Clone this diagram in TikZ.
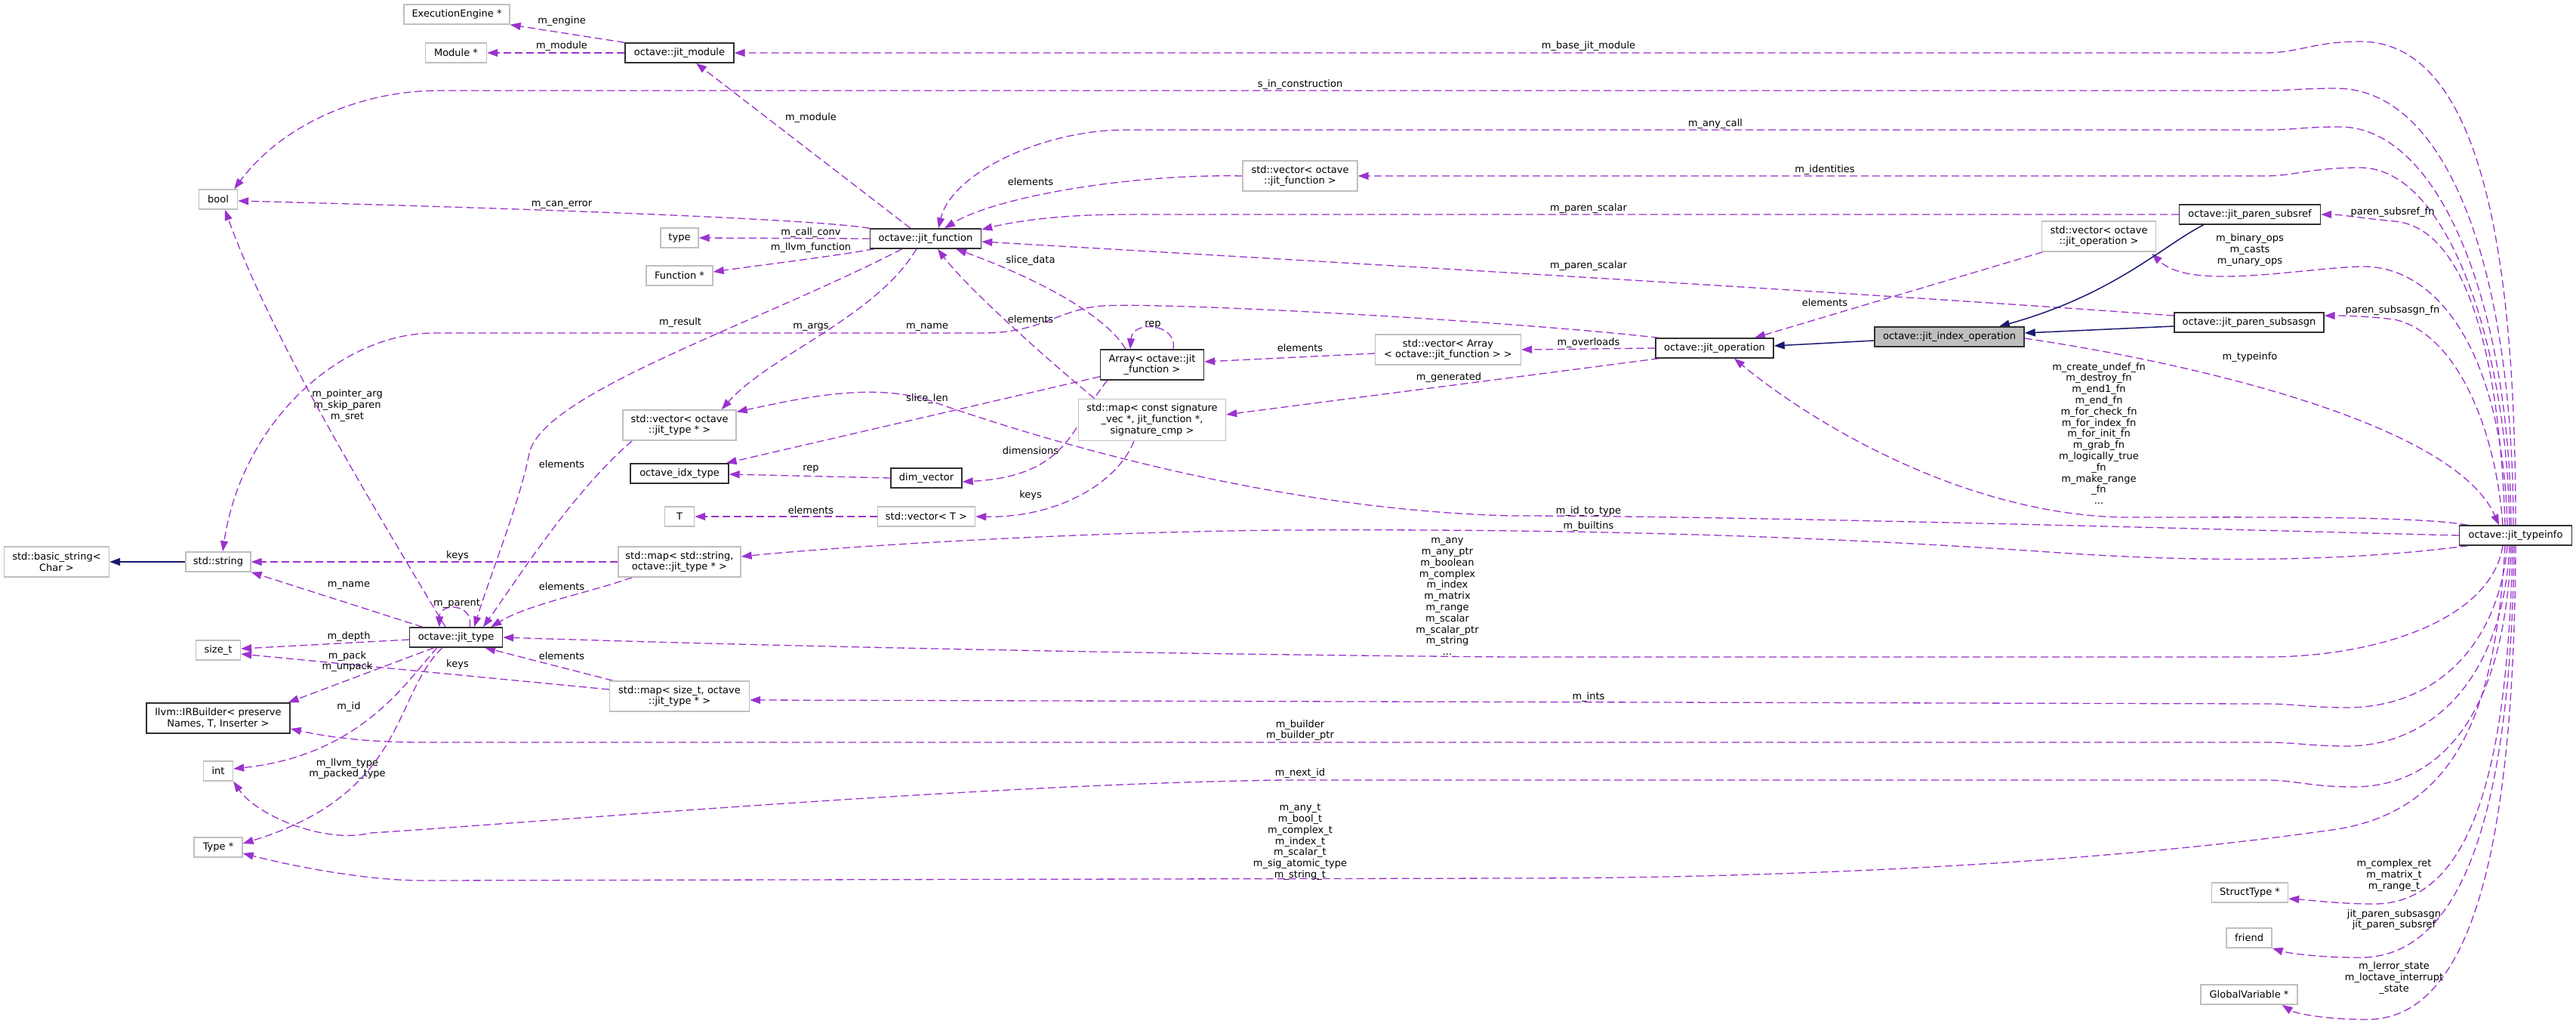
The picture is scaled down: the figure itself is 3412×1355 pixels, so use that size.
\documentclass[tikz,border=0pt]{standalone}
\usepackage{fontspec}
\setmainfont{DejaVu Sans}
\usetikzlibrary{arrows.meta,calc,backgrounds}
\definecolor{edgeP}{HTML}{9A32CD}
\definecolor{inhN}{HTML}{191970}
\definecolor{boxG}{HTML}{BFBFBF}
\definecolor{boxK}{HTML}{303030}
\begin{document}
\begin{tikzpicture}[x=1pt,y=-1pt,
  font=\fontsize{13pt}{14.8pt}\selectfont,
  box/.style={rectangle, line width=1.4pt, fill=white, inner xsep=3pt, inner ysep=2pt, minimum height=26pt, align=center},
  doc/.style={box, draw=boxK},
  und/.style={box, draw=boxG},
  two/.style={minimum height=40pt},
  three/.style={minimum height=55pt},
  use/.style={draw=edgeP, line width=1.3pt, dash pattern=on 10pt off 5pt, -{Triangle[length=14pt,width=10pt]}},
  inh/.style={draw=inhN, line width=1.5pt, -{Triangle[length=14pt,width=10pt]}},
  lbl/.style={inner sep=0pt, align=center, text=black}
]
\useasboundingbox (0,0) rectangle (3412,1355);
% ---------- nodes ----------
\node[und, minimum width=140pt] (ee) at (605,19) {ExecutionEngine *};
\node[und, minimum width=81pt] (mod) at (604,70) {Module *};
\node[doc, minimum width=144pt] (jmod) at (900,70) {octave::jit\_module};
\node[und, minimum width=51pt] (bool) at (289,264) {bool};
\node[und, minimum width=50pt] (type) at (900,315) {type};
\node[und, minimum width=88pt] (func) at (900,365) {Function *};
\node[doc, minimum width=147pt] (jfun) at (1226,316) {octave::jit\_function};
\node[und, two, minimum width=152pt] (vfun) at (1722,233) {std::vector< octave\\::jit\_function >};
\node[doc, minimum width=187pt] (subsref) at (2980,284) {octave::jit\_paren\_subsref};
\node[und, two, minimum width=151pt] (vop) at (2780,313) {std::vector< octave\\::jit\_operation >};
\node[doc, minimum width=198pt] (subsasgn) at (2979,427) {octave::jit\_paren\_subsasgn};
\node[doc, fill=boxG, minimum width=198pt] (idxop) at (2582,446) {octave::jit\_index\_operation};
\node[doc, minimum width=156pt] (jop) at (2271,461) {octave::jit\_operation};
\node[doc, minimum width=149pt] (tinfo) at (3332,709) {octave::jit\_typeinfo};
\node[und, two, minimum width=150pt] (vtype) at (900,563) {std::vector< octave\\::jit\_type * >};
\node[doc, minimum width=130pt] (idx) at (900,627) {octave\_idx\_type};
\node[und, minimum width=39pt] (T) at (900,684) {T};
\node[und, two, minimum width=162pt] (mapstr) at (900,744) {std::map< std::string,\\octave::jit\_type * >};
\node[und, two, minimum width=139pt] (bstr) at (75,744) {std::basic\_string<\\Char >};
\node[und, minimum width=86pt] (str) at (289,744) {std::string};
\node[doc, minimum width=123pt] (jtype) at (604,844) {octave::jit\_type};
\node[und, minimum width=59pt] (sizet) at (289,861) {size\_t};
\node[doc, two, minimum width=190pt] (irb) at (289,951) {llvm::IRBuilder< preserve\\Names, T, Inserter >};
\node[und, minimum width=39pt] (int) at (289,1021) {int};
\node[und, minimum width=64pt] (typep) at (289,1122) {Type *};
\node[und, two, minimum width=185pt] (mapsz) at (900,922) {std::map< size\_t, octave\\::jit\_type * >};
\node[doc, two, minimum width=137pt] (arr) at (1526,483) {Array< octave::jit\\\_function >};
\node[und, two, minimum width=193pt] (varr) at (1918,463) {std::vector< Array\\< octave::jit\_function > >};
\node[und, three, minimum width=195pt] (mapsig) at (1526,556) {std::map< const signature\\\_vec *, jit\_function *,\\ signature\_cmp >};
\node[doc, minimum width=94pt] (dimv) at (1227,633) {dim\_vector};
\node[und, minimum width=129pt] (vT) at (1227,684) {std::vector< T >};
\node[und, minimum width=101pt] (stype) at (2980,1182) {StructType *};
\node[und, minimum width=60pt] (friend) at (2979,1242) {friend};
\node[und, minimum width=128pt] (gvar) at (2979,1317) {GlobalVariable *};
% ---------- edges ----------
\begin{pgfonlayer}{background}
\fill[white] (0,0) rectangle (3412,1355);
\draw[use] (jmod.north west) -- (ee.south east);
\draw[use] (jmod.west) -- (mod.east);
\draw[use] (tinfo.north) .. controls (3332,350) and (3290,55) .. (3126,55) .. controls (3065,55) and (3045,70) .. (3000,70) -- (jmod.east);
\draw[use] ($(jfun.north)+(-20,0)$) -- ($(jmod.south)+(22,0)$);
\draw[use] ($(tinfo.north)+(-3,0)$) .. controls (3328,350) and (3240,117) .. (3094,117) .. controls (3050,117) and (3030,120) .. (3000,120) -- (582,120) .. controls (470,120) and (370,170) .. ($(bool.north east)+(-5,0)$);
\draw[use] ($(tinfo.north)+(-6,0)$) .. controls (3324,400) and (3230,168) .. (3099,168) .. controls (3050,168) and (3040,172) .. (3000,172) -- (1491,172) .. controls (1380,172) and (1260,230) .. ($(jfun.north)+(17,0)$);
\draw[use] (vfun.west) .. controls (1500,230) and (1320,260) .. ($(jfun.north)+(25,0)$);
\draw[use] ($(tinfo.north)+(-8,0)$) .. controls (3320,450) and (3240,222) .. (3126,222) .. controls (3060,222) and (3040,233) .. (3000,233) -- (vfun.east);
\draw[use] (subsref.west) -- (1491,284) .. controls (1400,284) and (1340,294) .. ($(jfun.east)+(0,-12)$);
\draw[use] ($(subsasgn.west)+(0,-9)$) .. controls (2500,390) and (1700,343) .. ($(jfun.east)+(0,4)$);
\draw[use] (jfun.north west) .. controls (1080,290) and (700,276) .. ($(bool.east)+(0,2)$);
\draw[use] (jfun.west) -- (type.east);
\draw[use] ($(jfun.south west)+(6,0)$) .. controls (1100,340) and (1000,352) .. ($(func.east)+(0,-5)$);
\draw[use] ($(jfun.south west)+(43,0)$) .. controls (1000,430) and (720,520) .. (701,600) .. controls (690,660) and (650,760) .. ($(jtype.north)+(24,0)$);
\draw[use] ($(jfun.south)+(-12,0)$) .. controls (1160,420) and (1020,470) .. ($(vtype.north east)+(-20,0)$);
\draw[use] ($(arr.north)+(-35,0)$) .. controls (1460,410) and (1350,360) .. ($(jfun.south east)+(-34,0)$);
\draw[use] ($(arr.north)+(28,0)$) .. controls (1560,428) and (1500,423) .. ($(arr.north)+(-29,0)$);
\draw[use] ($(mapsig.north west)+(22,0)$) .. controls (1380,470) and (1280,380) .. ($(jfun.south)+(16,0)$);
\draw[use] ($(arr.south west)+(10,0)$) .. controls (1420,560) and (1420,630) .. ($(dimv.east)+(0,5)$);
\draw[use] ($(arr.south west)+(0,-5)$) -- ($(idx.north east)+(-4,0)$);
\draw[use] (dimv.west) -- ($(idx.east)+(0,1)$);
\draw[use] ($(varr.west)+(0,5)$) -- ($(arr.east)+(0,-4)$);
\draw[use] (jop.west) -- (varr.east);
\draw[use] ($(jop.south west)+(5,0)$) -- ($(mapsig.east)+(0,-7)$);
\draw[use] ($(mapsig.south)+(-24,0)$) .. controls (1480,640) and (1400,686) .. (vT.east);
\draw[use] (vT.west) -- (T.east);
\draw[use] ($(jop.north west)+(5,0)$) .. controls (2000,425) and (1550,400) .. (1460,405) .. controls (1400,410) and (1380,441) .. (1301,441) -- (575,441) .. controls (450,441) and (320,560) .. ($(str.north)+(6,0)$);
\draw[inh] (str.west) -- (bstr.east);
\draw[use] (mapstr.west) -- (str.east);
\draw[use] ($(mapstr.south west)+(19,0)$) .. controls (780,785) and (700,800) .. ($(jtype.north east)+(-16,0)$);
\draw[use] ($(vtype.south west)+(13,0)$) .. controls (760,650) and (690,760) .. ($(jtype.north)+(36,0)$);
\draw[use] ($(jtype.north)+(18,0)$) .. controls (628,798) and (582,798) .. ($(jtype.north)+(-22,0)$);
\draw[use] ($(jtype.north)+(-14,0)$) .. controls (500,680) and (360,450) .. ($(bool.south)+(9,0)$);
\draw[use] ($(jtype.north west)+(18,0)$) -- (str.south east);
\draw[use] ($(jtype.west)+(0,3)$) -- ($(sizet.east)+(0,-2)$);
\draw[use] ($(mapsz.west)+(0,-9)$) -- ($(sizet.east)+(0,5)$);
\draw[use] ($(mapsz.north west)+(5,0)$) -- ($(jtype.south east)+(-24,0)$);
\draw[use] ($(jtype.south)+(-29,0)$) -- ($(irb.north east)+(-3,0)$);
\draw[use] ($(jtype.south)+(-25,0)$) .. controls (540,900) and (480,1000) .. ($(int.east)+(0,-3)$);
\draw[use] ($(jtype.south)+(-18,0)$) .. controls (520,920) and (540,1050) .. ($(typep.east)+(0,-5)$);
% typeinfo bottom bundle
\draw[use] ($(tinfo.south)+(-17,0)$) .. controls (3300,820) and (3150,870) .. (3000,870) -- (2000,870) .. controls (1500,866) and (1000,855) .. (jtype.east);
\draw[use] ($(tinfo.south)+(-11,0)$) .. controls (3310,850) and (3230,937) .. (3108,937) .. controls (3060,937) and (3040,932) .. (3000,932) -- ($(mapsz.east)+(0,5)$);
\draw[use] ($(tinfo.south)+(-8,0)$) .. controls (3315,900) and (3220,988) .. (3108,988) .. controls (3060,988) and (3040,983) .. (3000,983) -- (561,983) .. controls (480,983) and (430,975) .. ($(irb.east)+(0,14)$);
\draw[use] ($(tinfo.south)+(-6,0)$) .. controls (3318,950) and (3230,1042) .. (3117,1042) .. controls (3060,1042) and (3040,1033) .. (3000,1033) -- (1700,1033) .. controls (1300,1038) and (700,1090) .. (491,1103) .. controls (430,1118) and (340,1080) .. (int.south east);
\draw[use] ($(tinfo.south)+(-14,0)$) .. controls (3305,950) and (3250,1080) .. (3081,1100) .. controls (2800,1140) and (2400,1163) .. (2000,1163) -- (561,1166) .. controls (480,1166) and (380,1145) .. ($(typep.east)+(0,8)$);
\draw[use] ($(tinfo.south)+(-4,0)$) .. controls (3322,1000) and (3280,1197) .. (3144,1197) .. controls (3100,1197) and (3060,1192) .. ($(stype.east)+(0,8)$);
\draw[use] ($(tinfo.south)+(-2,0)$) .. controls (3326,1050) and (3270,1268) .. (3126,1268) .. controls (3070,1268) and (3030,1262) .. (friend.south east);
\draw[use] (tinfo.south) .. controls (3330,1100) and (3280,1350) .. (3135,1350) .. controls (3080,1350) and (3040,1342) .. ($(gvar.south east)+(-21,0)$);
\draw[use] ($(tinfo.south west)+(12,0)$) .. controls (3100,745) and (2900,745) .. (2700,730) .. controls (2400,710) and (2100,700) .. (1700,702) .. controls (1400,705) and (1100,725) .. ($(mapstr.east)+(0,-7)$);
\draw[use] (tinfo.west) .. controls (2900,700) and (2300,683) .. (2000,683) .. controls (1700,675) and (1400,590) .. (1230,530) .. controls (1150,505) and (1050,530) .. ($(vtype.north east)+(0,3)$);
% typeinfo top bundle
\draw[use] ($(tinfo.north west)+(12,0)$) .. controls (3200,683) and (3000,685) .. (2810,685) .. controls (2600,680) and (2400,560) .. ($(jop.south)+(26,0)$);
\draw[use] ($(idxop.east)+(0,2)$) .. controls (2900,480) and (3250,560) .. ($(tinfo.north)+(-22,0)$);
\draw[use] ($(tinfo.north)+(-14,0)$) .. controls (3310,450) and (3260,300) .. (3171,293) .. controls (3120,288) and (3100,284) .. (subsref.east);
\draw[use] ($(tinfo.north)+(-17,0)$) .. controls (3305,560) and (3250,440) .. (3171,423) .. controls (3130,418) and (3100,418) .. ($(subsasgn.east)+(0,-9)$);
\draw[use] ($(tinfo.north)+(-11,0)$) .. controls (3315,470) and (3230,350) .. (3126,353) .. controls (3040,356) and (2900,385) .. ($(vop.south east)+(-6,2)$);
\draw[use] ($(vop.south west)+(2,0)$) -- ($(jop.north)+(53,0)$);
\draw[inh] ($(idxop.west)+(0,5)$) -- ($(jop.east)+(0,-3)$);
\draw[inh] ($(subsref.south west)+(33,0)$) .. controls (2865,325) and (2800,390) .. ($(idxop.north)+(66,0)$);
\draw[inh] ($(subsasgn.west)+(0,5)$) -- ($(idxop.east)+(0,-5)$);
\end{pgfonlayer}
% ---------- labels ----------
\node[lbl] (l1) at (744,28) {m\_engine};
\node[lbl] (l2) at (744,61) {m\_module};
\node[lbl] (l3) at (2104,61) {m\_base\_jit\_module};
\node[lbl] (l4) at (1074,156) {m\_module};
\node[lbl] (l5) at (1722,112) {s\_in\_construction};
\node[lbl] (l6) at (2272,164) {m\_any\_call};
\node[lbl] (l7) at (1365,241) {elements};
\node[lbl] (l8) at (2417,225) {m\_identities};
\node[lbl] (l9) at (2104,276) {m\_paren\_scalar};
\node[lbl] (l10) at (2104,352) {m\_paren\_scalar};
\node[lbl] (l11) at (744,271) {m\_can\_error};
\node[lbl] (l12) at (1074,308) {m\_call\_conv};
\node[lbl] (l13) at (1074,328) {m\_llvm\_function};
\node[lbl] (l14) at (1365,345) {slice\_data};
\node[lbl] (l15) at (1365,423) {elements};
\node[lbl] (l16) at (1527,430) {rep};
\node[lbl] (l17) at (901,427) {m\_result};
\node[lbl] (l18) at (1074,433) {m\_args};
\node[lbl] (l19) at (1228,433) {m\_name};
\node[lbl] (l20) at (460,537) {m\_pointer\_arg\\m\_skip\_paren\\m\_sret};
\node[lbl] (l21) at (744,615) {elements};
\node[lbl] (l22) at (1074,621) {rep};
\node[lbl] (l23) at (1074,676) {elements};
\node[lbl] (l24) at (606,736) {keys};
\node[lbl] (l25) at (462,775) {m\_name};
\node[lbl] (l26) at (744,777) {elements};
\node[lbl] (l27) at (605,799) {m\_parent};
\node[lbl] (l28) at (462,843) {m\_depth};
\node[lbl] (l29) at (460,876) {m\_pack\\m\_unpack};
\node[lbl] (l30) at (606,880) {keys};
\node[lbl] (l31) at (744,869) {elements};
\node[lbl] (l32) at (462,936) {m\_id};
\node[lbl] (l33) at (460,1018) {m\_llvm\_type\\m\_packed\_type};
\node[lbl] (l34) at (1722,461) {elements};
\node[lbl] (l35) at (2104,454) {m\_overloads};
\node[lbl] (l36) at (1919,500) {m\_generated};
\node[lbl] (l37) at (1365,597) {dimensions};
\node[lbl] (l38) at (1228,528) {slice\_len};
\node[lbl] (l39) at (1365,656) {keys};
\node[lbl] (l40) at (2104,677) {m\_id\_to\_type};
\node[lbl] (l41) at (2104,697) {m\_builtins};
\node[lbl] (l42) at (1917,790) {m\_any\\m\_any\_ptr\\m\_boolean\\m\_complex\\m\_index\\m\_matrix\\m\_range\\m\_scalar\\m\_scalar\_ptr\\m\_string\\...};
\node[lbl] (l43) at (2104,923) {m\_ints};
\node[lbl] (l44) at (1722,967) {m\_builder\\m\_builder\_ptr};
\node[lbl] (l45) at (1722,1024) {m\_next\_id};
\node[lbl] (l46) at (1722,1115) {m\_any\_t\\m\_bool\_t\\m\_complex\_t\\m\_index\_t\\m\_scalar\_t\\m\_sig\_atomic\_type\\m\_string\_t};
\node[lbl] (l47) at (3171,1159) {m\_complex\_ret\\m\_matrix\_t\\m\_range\_t};
\node[lbl] (l48) at (3171,1218) {jit\_paren\_subsasgn\\jit\_paren\_subsref};
\node[lbl] (l49) at (3171,1295) {m\_lerror\_state\\m\_loctave\_interrupt\\\_state};
\node[lbl] (l50) at (3169,281) {paren\_subsref\_fn};
\node[lbl] (l51) at (3169,411) {paren\_subsasgn\_fn};
\node[lbl] (l52) at (2980,331) {m\_binary\_ops\\m\_casts\\m\_unary\_ops};
\node[lbl] (l53) at (2417,401) {elements};
\node[lbl] (l54) at (2980,473) {m\_typeinfo};
\node[lbl] (l55) at (2780,574) {m\_create\_undef\_fn\\m\_destroy\_fn\\m\_end1\_fn\\m\_end\_fn\\m\_for\_check\_fn\\m\_for\_index\_fn\\m\_for\_init\_fn\\m\_grab\_fn\\m\_logically\_true\\\_fn\\m\_make\_range\\\_fn\\...};
\end{tikzpicture}
\end{document}
